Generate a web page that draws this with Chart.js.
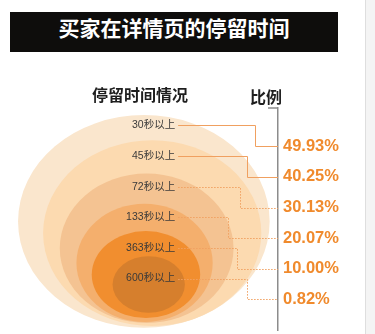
<!DOCTYPE html>
<html>
<head>
<meta charset="utf-8">
<script src="https://cdn.jsdelivr.net/npm/chart.js@4/dist/chart.umd.min.js"></script>
<style>
  body { margin: 0; background: #fff; }
  #wrap { position: relative; width: 375px; height: 334px; overflow: hidden; }
  #chart { position: absolute; left: 0; top: 0; }
  .title-bar {
    position: absolute; left: 10px; top: 12px; width: 328px; height: 40px;
    background: #0e0d0c; color: #fff; text-align: center; line-height: 40px;
    font: bold 21px "Noto Sans CJK SC", sans-serif;
  }
  .head {
    position: absolute; font: bold 16px "Noto Sans CJK SC", sans-serif; color: #1e1e1e;
  }
  .edge {
    position: absolute; left: 365px; top: 0; width: 10px; height: 334px;
    background: #f4f4f4; border-left: 1px solid #dedede;
  }
</style>
</head>
<body>
<div id="wrap">
  <canvas id="chart" width="375" height="334"></canvas>
  <div class="title-bar">买家在详情页的停留时间</div>
  <div class="head" style="left:92px; top:82px;">停留时间情况</div>
  <div class="head" style="left:250px; top:84px;">比例</div>
  <div class="edge"></div>
</div>
<script>
// data
const tiers = ["30秒以上", "45秒以上", "72秒以上", "133秒以上", "363秒以上", "600秒以上"];
const shares = [49.93, 40.25, 30.13, 20.07, 10.00, 0.82];
const tickLabels = shares.map((v) => v.toFixed(2) + "%");

// styling for the nested rings (in scale units), outer to inner
const ringColors = ["#fae6cd", "#fcdab0", "#f4c392", "#f4af6d", "#f18e2f", "#d67f2d"];
const ringBox = [
  { l: -0.87, r: 0.94, t: -1.02, b: 5.93 },
  { l: -0.69, r: 0.88, t: -0.20, b: 5.87 },
  { l: -0.57, r: 0.68, t: 0.89, b: 5.77 },
  { l: -0.45, r: 0.53, t: 1.88, b: 5.74 },
  { l: -0.34, r: 0.44, t: 2.77, b: 5.61 },
  { l: -0.19, r: 0.33, t: 3.59, b: 5.44 },
];
const elbowX = [0.835, 0.777, 0.727, 0.64, 0.705, 0.777];
const labelX = 0.26;
const labelShift = -0.68;

const ringsPlugin = {
  id: "rings",
  beforeDatasetsDraw(chart) {
    const { ctx, scales: { x, y }, chartArea } = chart;
    ctx.save();
    ringBox.forEach((b, i) => {
      const l = x.getPixelForValue(b.l), r = x.getPixelForValue(b.r);
      const t = y.getPixelForValue(b.t), btm = y.getPixelForValue(b.b);
      ctx.beginPath();
      ctx.ellipse((l + r) / 2, (t + btm) / 2, (r - l) / 2, (btm - t) / 2, 0, 0, Math.PI * 2);
      ctx.fillStyle = ringColors[i];
      ctx.fill();
    });

    // connectors from ring label to percentage
    const meta = chart.getDatasetMeta(0);
    ctx.strokeStyle = "#f0a060";
    ctx.lineWidth = 1;
    meta.data.forEach((pt, i) => {
      const ex = Math.round(x.getPixelForValue(elbowX[i])) + 0.5;
      const ty = Math.round(y.getPixelForValue(i)) + 0.5;
      const ly = Math.round(pt.y) + 0.5;
      ctx.setLineDash(i < 2 ? [] : [1.5, 1.5]);
      ctx.beginPath();
      ctx.moveTo(pt.x + 3, ly);
      ctx.lineTo(ex, ly);
      ctx.lineTo(ex, ty);
      ctx.lineTo(chartArea.right, ty);
      ctx.stroke();
    });
    ctx.setLineDash([]);

    // little bracket at the top of the axis
    ctx.strokeStyle = "#8c8c8c";
    ctx.lineWidth = 1.5;
    ctx.beginPath();
    ctx.moveTo(chartArea.right - 10, chartArea.top);
    ctx.lineTo(chartArea.right, chartArea.top);
    ctx.stroke();
    ctx.restore();
  },
  afterDatasetsDraw(chart) {
    const { ctx } = chart;
    const meta = chart.getDatasetMeta(0);
    ctx.save();
    ctx.font = '10.5px "Liberation Sans", "Noto Sans CJK SC", sans-serif';
    ctx.fillStyle = "#3a3a3a";
    ctx.textAlign = "right";
    ctx.textBaseline = "middle";
    meta.data.forEach((pt, i) => {
      ctx.fillText(tiers[i], pt.x, pt.y);
    });
    ctx.restore();
  },
};

const ctx = document.getElementById("chart").getContext("2d");
new Chart(ctx, {
  type: "scatter",
  data: {
    datasets: [
      {
        label: "停留时间",
        data: tiers.map((t, i) => ({ x: labelX, y: i + labelShift })),
        pointRadius: 0,
        showLine: false,
      },
    ],
  },
  options: {
    responsive: false,
    animation: false,
    devicePixelRatio: 1,
    layout: { padding: { top: 108, bottom: 4, left: 0, right: 0 } },
    plugins: { legend: { display: false }, tooltip: { enabled: false } },
    scales: {
      x: { type: "linear", display: false, min: -1, max: 1 },
      y: {
        type: "linear",
        position: "right",
        reverse: true,
        min: -1.25,
        max: 6,
        afterBuildTicks: (scale) => {
          scale.ticks = shares.map((s, i) => ({ value: i }));
        },
        afterFit: (scale) => {
          scale.width = 97;
          scale.paddingTop = 0;
          scale.paddingBottom = 0;
        },
        grid: { display: false, drawTicks: false },
        border: { display: true, color: "#8c8c8c", width: 1.5 },
        ticks: {
          padding: 5,
          color: "#f08a2c",
          font: { family: '"Liberation Sans", sans-serif', size: 16.5, weight: "bold" },
          callback: (v) => tickLabels[v],
        },
      },
    },
  },
  plugins: [ringsPlugin],
});
</script>
</body>
</html>
